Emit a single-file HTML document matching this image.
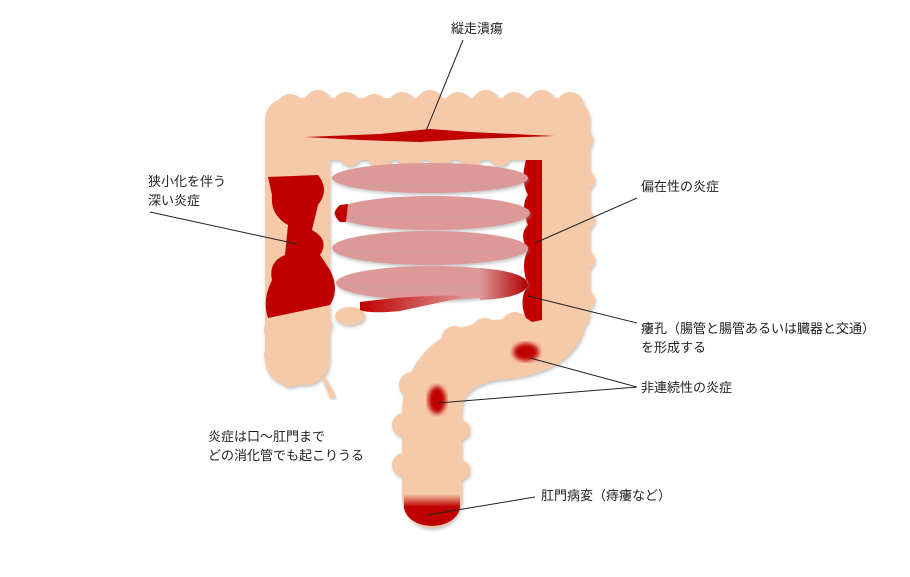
<!DOCTYPE html>
<html><head><meta charset="utf-8"><style>
body{margin:0;background:#fff;width:910px;height:572px;overflow:hidden}
svg text{font-family:"Liberation Sans","Noto Sans CJK JP",sans-serif;font-size:13px;fill:#222}
</style></head><body>
<svg width="910" height="572" viewBox="0 0 910 572">
<defs>
<filter id="sh" x="-10%" y="-10%" width="120%" height="120%"><feDropShadow dx="1" dy="2" stdDeviation="1.5" flood-color="#999" flood-opacity="0.6"/></filter>
<filter id="bl"><feGaussianBlur stdDeviation="2.5"/></filter>
<linearGradient id="fis" x1="0" x2="1"><stop offset="0" stop-color="#c00000"/><stop offset="1" stop-color="#dd9898"/></linearGradient>
<linearGradient id="fis2" x1="0" x2="1"><stop offset="0" stop-color="#dd9898"/><stop offset="1" stop-color="#b00000"/></linearGradient>
<linearGradient id="rec" x1="0" y1="0" x2="0" y2="1"><stop offset="0" stop-color="#f6c9a8"/><stop offset="0.4" stop-color="#c00000"/></linearGradient>
</defs>
<g fill="#f6c9a8" filter="url(#sh)">
<path d="M556 310 Q560 345 495 350 Q434 360 432 412 L432 498" fill="none" stroke="#f6c9a8" stroke-width="60" stroke-linecap="round"/>
<rect x="265" y="98" width="325" height="62" rx="22"/>
<circle cx="290" cy="108" r="14"/><circle cx="318" cy="104" r="14"/><circle cx="346" cy="106" r="14"/><circle cx="374" cy="108" r="14"/><circle cx="402" cy="106" r="14"/><circle cx="430" cy="104" r="14"/><circle cx="458" cy="106" r="14"/><circle cx="486" cy="104" r="14"/><circle cx="514" cy="106" r="14"/><circle cx="542" cy="104" r="14"/><circle cx="570" cy="106" r="14"/>
<circle cx="350" cy="154" r="12"/><circle cx="380" cy="157" r="12"/><circle cx="410" cy="158" r="12"/><circle cx="440" cy="156" r="12"/><circle cx="470" cy="156" r="12"/><circle cx="500" cy="154" r="12"/>
<rect x="265" y="110" width="65" height="275" rx="25"/>
<circle cx="278" cy="330" r="14"/><circle cx="278" cy="355" r="14"/><circle cx="320" cy="325" r="12"/><circle cx="290" cy="375" r="12"/>
<ellipse cx="350" cy="316" rx="15" ry="9"/>
<rect x="526" y="100" width="64" height="235" rx="22"/>
<circle cx="583" cy="140" r="10"/><circle cx="585" cy="180" r="10"/><circle cx="585" cy="220" r="10"/><circle cx="585" cy="260" r="10"/><circle cx="585" cy="300" r="10"/>
<circle cx="455" cy="340" r="14"/><circle cx="485" cy="332" r="14"/><circle cx="515" cy="326" r="14"/>
<circle cx="412" cy="385" r="13"/><circle cx="404" cy="425" r="12"/><circle cx="404" cy="465" r="12"/><circle cx="460" cy="430" r="10"/><circle cx="460" cy="470" r="10"/>
</g>
<path d="M322 378 L326 378 L336 397 L330 398Z" fill="#f6c9a8" filter="url(#sh)"/>
<path d="M404 494 L460 494 L460 506 A28 20 0 0 1 404 506Z" fill="url(#rec)"/>
<path d="M268 177 L318 175 Q330 190 318 205 L312 230 Q330 240 320 255 L330 270 Q340 290 330 305 L268 318 Q262 300 272 280 Q268 262 285 255 L288 225 Q270 215 272 195Z" fill="#c00000"/>
<path d="M526 160 L542 160 L542 320 L532 322 L526 318 Q518 300 528 285 Q520 265 528 250 Q518 235 528 225 Q520 205 528 195 Q520 180 526 160Z" fill="#c00000"/>
<g fill="#dd9898" filter="url(#sh)">
<ellipse cx="430" cy="178" rx="98" ry="15"/>
<ellipse cx="432" cy="213" rx="98" ry="17"/>
<ellipse cx="430" cy="248" rx="98" ry="17"/>
<ellipse cx="432" cy="283" rx="96" ry="17"/>
</g>
<g stroke="#c9a0a0" stroke-width="1" fill="none">
<line x1="345" y1="185" x2="510" y2="186"/><line x1="345" y1="218" x2="510" y2="218"/><line x1="345" y1="253" x2="510" y2="253"/><line x1="345" y1="288" x2="510" y2="288"/>
</g>
<path d="M340 205 Q330 213 340 222 L346 222 L348 204Z" fill="#c00000"/>
<path d="M360 302 Q420 294 470 296 L400 311 Q370 314 360 310Z" fill="url(#fis)"/>
<path d="M480 268 Q528 272 528 285 Q524 298 480 300Z" fill="url(#fis2)"/>
<path d="M305 137 L380 134 L430 129 L470 132 L555 136 L470 139 L420 142 L360 140Z" fill="#c00000"/>
<ellipse cx="526" cy="352" rx="13" ry="9" fill="#c00000" filter="url(#bl)"/>
<ellipse cx="437" cy="400" rx="9" ry="14" fill="#c00000" filter="url(#bl)"/>
<g stroke="#222" stroke-width="1">
<line x1="463" y1="40" x2="426" y2="131"/>
<line x1="150" y1="212" x2="297" y2="244"/>
<line x1="637" y1="198" x2="535" y2="243"/>
<line x1="637" y1="323" x2="528" y2="296"/>
<line x1="637" y1="387" x2="530" y2="358"/>
<line x1="637" y1="387" x2="438" y2="403"/>
<line x1="535" y1="497" x2="427" y2="515"/>
</g>
<text x="451" y="33">縦走潰瘍</text>
<text x="148" y="186">狭小化を伴う</text>
<text x="148" y="205">深い炎症</text>
<text x="641" y="191">偏在性の炎症</text>
<text x="641" y="333">瘻孔（腸管と腸管あるいは臓器と交通）</text>
<text x="641" y="352">を形成する</text>
<text x="641" y="392">非連続性の炎症</text>
<text x="208" y="441">炎症は口～肛門まで</text>
<text x="208" y="460">どの消化管でも起こりうる</text>
<text x="541" y="500">肛門病変（痔瘻など）</text>
</svg>
</body></html>
